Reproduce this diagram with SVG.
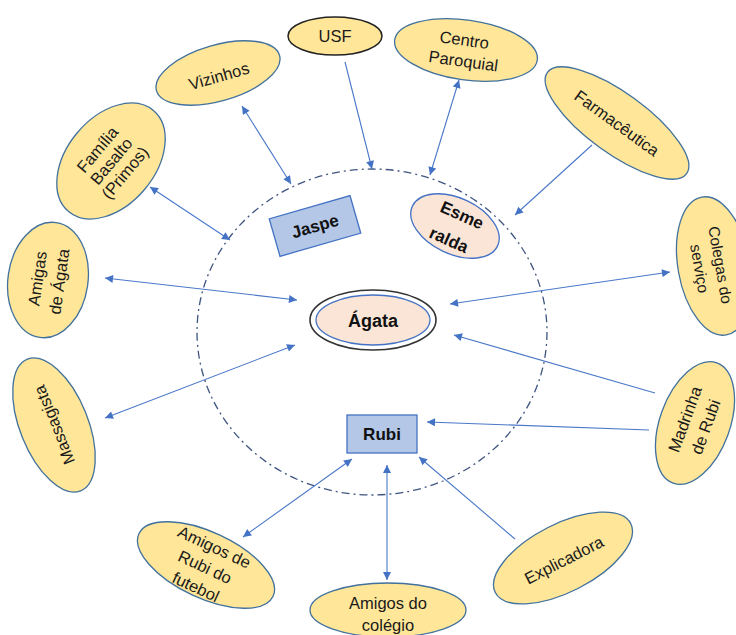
<svg xmlns="http://www.w3.org/2000/svg" width="736" height="635" viewBox="0 0 736 635">
<defs>
<style>
.n{fill:#ffe699;stroke:#41719c;stroke-width:1.3}
.t{font-family:"Liberation Sans",Arial,sans-serif;font-size:16.5px;fill:#1a1a1a;text-anchor:middle}
.b{font-family:"Liberation Sans",Arial,sans-serif;font-size:17px;font-weight:bold;fill:#111;text-anchor:middle}
.pe{fill:#fbe5d6;stroke:#4472c4;stroke-width:1.3}
.bx{fill:#b4c7e7;stroke:#4472c4;stroke-width:1.3}
.c line{stroke:#4a78c8;stroke-width:1.1}
</style>
<marker id="a" viewBox="0 0 10 10" refX="10" refY="5" markerWidth="9" markerHeight="8" markerUnits="userSpaceOnUse" orient="auto-start-reverse">
<path d="M0,0 L10,5 L0,10 z" fill="#4472c4"/>
</marker>
</defs>
<rect width="736" height="635" fill="#fff"/>
<ellipse id="circle" cx="372" cy="332" rx="175" ry="163" fill="none" stroke="#3f5580" stroke-width="1.3" stroke-dasharray="8 4 2 4"/>
<g class="c">
<line x1="242" y1="106" x2="291" y2="184" marker-start="url(#a)" marker-end="url(#a)"/>
<line x1="345" y1="62" x2="372" y2="169" marker-end="url(#a)"/>
<line x1="459" y1="80" x2="430" y2="175" marker-start="url(#a)" marker-end="url(#a)"/>
<line x1="592" y1="145" x2="515" y2="215" marker-end="url(#a)"/>
<line x1="150" y1="187" x2="230" y2="240" marker-start="url(#a)" marker-end="url(#a)"/>
<line x1="105" y1="278" x2="297" y2="300" marker-start="url(#a)" marker-end="url(#a)"/>
<line x1="105" y1="418" x2="295" y2="345" marker-start="url(#a)" marker-end="url(#a)"/>
<line x1="450" y1="304" x2="670" y2="272" marker-start="url(#a)" marker-end="url(#a)"/>
<line x1="655" y1="393" x2="454" y2="335" marker-end="url(#a)"/>
<line x1="649" y1="430" x2="427" y2="422" marker-end="url(#a)"/>
<line x1="243" y1="537" x2="352" y2="459" marker-start="url(#a)" marker-end="url(#a)"/>
<line x1="387" y1="580" x2="387" y2="465" marker-start="url(#a)" marker-end="url(#a)"/>
<line x1="515" y1="539" x2="419" y2="457" marker-end="url(#a)"/>
</g>
<g id="usf"><ellipse cx="335" cy="36" rx="47" ry="19" fill="#ffe699" stroke="#222" stroke-width="1.5"/><text class="t" x="335" y="42">USF</text></g>
<g id="vizinhos" transform="translate(218,73) rotate(-16)"><ellipse class="n" rx="64" ry="28"/><text class="t" x="0" y="9">Vizinhos</text></g>
<g id="centro" transform="translate(466,50) rotate(8)"><ellipse class="n" rx="72" ry="30"/><text class="t"><tspan x="-3" y="-4">Centro</tspan><tspan x="-1" y="17">Paroquial</tspan></text></g>
<g id="farmaceutica" transform="translate(617,123) rotate(36)"><ellipse class="n" rx="86" ry="30"/><text class="t" x="0" y="6">Farmacêutica</text></g>
<g id="familia" transform="translate(111,161) rotate(-50)"><ellipse class="n" rx="66" ry="44"/><text class="t"><tspan x="0" y="-12">Família</tspan><tspan x="0" y="6">Basalto</tspan><tspan x="0" y="24">(Primos)</tspan></text></g>
<g id="amigas" transform="translate(48,280) rotate(-82)"><ellipse class="n" rx="58" ry="40"/><text class="t"><tspan x="0" y="-5">Amigas</tspan><tspan x="0" y="17">de Ágata</tspan></text></g>
<g id="massagista" transform="translate(54,425) rotate(68)"><ellipse class="n" rx="71" ry="34"/><text class="t" transform="rotate(180)" x="0" y="6">Massagista</text></g>
<g id="colegas" transform="translate(714,266) rotate(80)"><ellipse class="n" rx="70" ry="36"/><text class="t" style="font-size:15.5px" transform="translate(0,4)"><tspan x="0" y="-5">Colegas do</tspan><tspan x="0" y="16">serviço</tspan></text></g>
<g id="madrinha" transform="translate(695,423) rotate(-70)"><ellipse class="n" rx="64" ry="35"/><text class="t"><tspan x="0" y="-5">Madrinha</tspan><tspan x="0" y="17">de Rubi</tspan></text></g>
<g id="explicadora" transform="translate(563,558) rotate(-27)"><ellipse class="n" rx="76" ry="34"/><text class="t" x="0" y="8">Explicadora</text></g>
<g id="colegio"><ellipse class="n" cx="388" cy="610" rx="78" ry="27"/><text class="t"><tspan x="388" y="609">Amigos do</tspan><tspan x="388" y="631">colégio</tspan></text></g>
<g id="futebol" transform="translate(206,565) rotate(25)"><ellipse class="n" rx="74" ry="33"/><text class="t"><tspan x="0" y="-14">Amigos de</tspan><tspan x="0" y="8">Rubi do</tspan><tspan x="0" y="30">futebol</tspan></text></g>
<g id="jaspe" transform="translate(315,226) rotate(-16)"><rect class="bx" x="-42" y="-19.5" width="84" height="39"/><text class="b" x="0" y="6">Jaspe</text></g>
<g id="esmeralda" transform="translate(455,226) rotate(25)"><ellipse class="pe" rx="47" ry="28"/><text class="b" transform="rotate(-1)"><tspan x="2" y="-7">Esme</tspan><tspan x="0" y="21">ralda</tspan></text></g>
<g id="agata"><ellipse cx="373" cy="320" rx="63" ry="30" fill="#fff" stroke="#333" stroke-width="1.6"/><ellipse class="pe" cx="373" cy="320" rx="57" ry="25"/><text class="b" style="font-size:18px" x="373" y="327">Ágata</text></g>
<g id="rubi"><rect class="bx" x="347" y="415" width="70" height="38"/><text class="b" x="382" y="440">Rubi</text></g>
</svg>
